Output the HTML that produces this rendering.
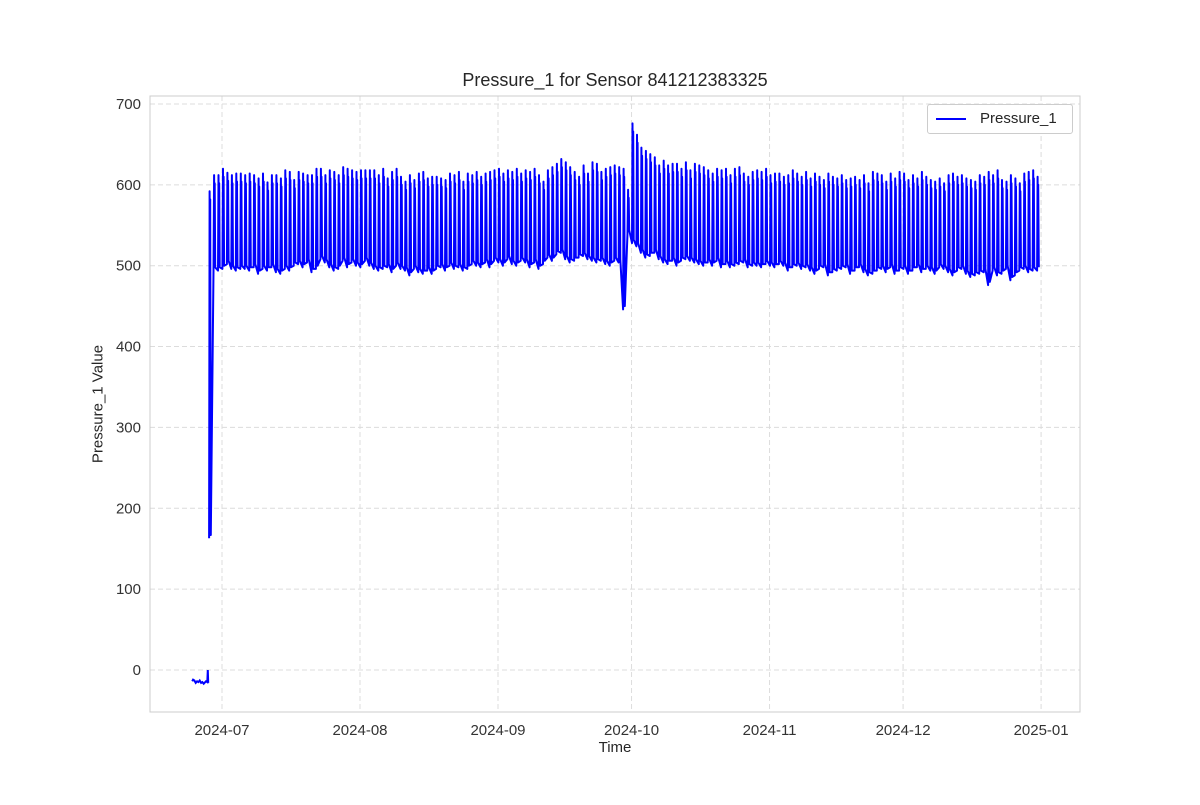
<!DOCTYPE html>
<html><head><meta charset="utf-8"><style>
body{margin:0;background:#fff;font-family:"Liberation Sans",sans-serif}
</style></head><body>
<svg id="c" width="1200" height="800" xmlns="http://www.w3.org/2000/svg" font-family="Liberation Sans, sans-serif"></svg>
<script>
const yTicks=[0,100,200,300,400,500,600,700];
const xTickLabels=["2024-07","2024-08","2024-09","2024-10","2024-11","2024-12","2025-01"];
const xTickDays=[0,31,62,92,123,153,184];
const preDays=[-6.7,-6.5,-6.2,-5.9,-5.6,-5.3,-5.0,-4.7,-4.4,-4.1,-3.6,-3.3,-3.2,-3.1];
const preVals=[-14,-12,-13,-16,-14,-15,-13,-16,-15,-17,-14,-15,0,-16];
const highs=[592,612,612,
620,615,612,614,614,612,614,612,608,614,603,612,612,608,618,616,606,616,614,612,612,620,620,612,618,616,612,622,620,618,616,
618,618,618,618,612,620,608,616,620,610,604,612,606,614,616,608,610,610,608,606,614,612,616,604,614,612,616,610,614,616,618,
620,614,618,616,620,614,618,616,620,612,604,618,622,626,632,628,622,616,610,624,614,628,626,616,620,622,624,622,620,594,
676,662,646,642,638,634,624,630,624,626,626,620,628,618,626,624,622,618,614,620,618,620,612,620,622,614,610,616,618,616,620,
612,614,614,610,612,618,614,610,616,608,614,610,606,614,610,608,612,606,608,610,606,612,602,616,614,612,604,614,608,616,
614,606,612,608,616,610,606,604,608,602,612,614,610,612,608,606,604,612,610,616,612,618,606,604,612,608,602,614,616,618,610];
const lows=[163,494,494,
496,502,496,494,496,496,494,498,490,496,494,498,492,490,496,494,500,502,498,504,492,496,508,504,498,494,496,506,498,504,500,
498,506,500,496,494,496,498,492,500,496,494,488,496,492,490,494,490,496,498,494,500,496,498,494,496,502,500,498,504,498,506,
504,500,508,502,500,506,504,498,504,496,502,510,506,514,516,508,504,506,510,512,508,506,504,506,502,500,506,504,446,540,
528,524,516,510,512,516,508,504,502,506,500,506,508,506,504,502,500,504,500,506,498,502,498,500,502,504,498,500,500,498,502,
500,498,502,500,494,498,500,496,498,494,490,496,498,488,492,494,496,498,490,494,498,492,488,490,494,496,492,498,490,494,
496,490,494,498,492,496,494,490,498,496,492,488,494,496,490,486,488,490,492,476,494,488,490,496,482,488,494,496,492,494,494];
const mids=550;
const NS="http://www.w3.org/2000/svg";
const svg=document.getElementById('c');
const L=150,R=1080,T=96,B=712;
const xs=d=>222+d*(138/31);
const ys=v=>670-v*0.8086;
function mk(t,a,p){const e=document.createElementNS(NS,t);for(const k in a)e.setAttribute(k,a[k]);(p||svg).appendChild(e);return e;}
yTicks.forEach(v=>{const g=mk('line',{x1:L,x2:R,y1:ys(v),y2:ys(v),stroke:'#dcdcdc','stroke-dasharray':'5,3'});

const t=mk('text',{x:L-9,y:ys(v)+5,'text-anchor':'end','font-size':15,fill:'#333'});t.textContent=v;
});
xTickDays.forEach((d,i)=>{const g=mk('line',{x1:xs(d),x2:xs(d),y1:T,y2:B,stroke:'#dcdcdc','stroke-dasharray':'5,3'});

const t=mk('text',{x:xs(d),y:B+23,'text-anchor':'middle','font-size':15,fill:'#333'});t.textContent=xTickLabels[i];
});
let d='';
preDays.forEach((dd,i)=>{d+=(i?'L':'M')+xs(dd).toFixed(1)+','+ys(preVals[i]).toFixed(1);});
const p1=mk('path',{d:d,fill:'none',stroke:'#0000ff','stroke-width':2});

d='';
const n=Math.min(highs.length,lows.length);
for(let i=0;i<n;i++){const day=i-3;
d+=(i?'L':'M')+xs(day+0.1).toFixed(1)+','+ys(lows[i]).toFixed(1);
d+='L'+xs(day+0.22).toFixed(1)+','+ys(highs[i]).toFixed(1);
d+='L'+xs(day+0.3).toFixed(1)+','+ys(mids).toFixed(1);
d+='L'+xs(day+0.36).toFixed(1)+','+ys(highs[i]-10).toFixed(1);
d+='L'+xs(day+0.48).toFixed(1)+','+ys(lows[i]+4).toFixed(1);}
const p2=mk('path',{d:d,fill:'none',stroke:'#0000ff','stroke-width':2,'stroke-linejoin':'round'});

const f=mk('rect',{x:L,y:T,width:R-L,height:B-T,fill:'none',stroke:'#cccccc'});

</script>
<div style="position:absolute;left:0;top:0;width:1200px;height:800px;pointer-events:none">
<div style="position:absolute;top:70px;left:0;width:1230px;text-align:center;font-size:18px;color:#262626">Pressure_1 for Sensor 841212383325</div>
<div style="position:absolute;top:739px;left:0;width:1230px;text-align:center;font-size:15px;color:#262626">Time</div>
<div style="position:absolute;left:98px;top:404px;transform:translate(-50%,-50%) rotate(-90deg);font-size:15px;color:#262626;white-space:nowrap">Pressure_1 Value</div>
<div style="position:absolute;left:927px;top:104px;width:144px;height:28px;border:1px solid #ccc;border-radius:3px;background:#fff;font-size:15px;color:#262626">
<span style="position:absolute;left:8px;top:13px;width:30px;height:2px;background:#00f"></span>
<span style="position:absolute;left:52px;top:5px">Pressure_1</span></div>
</div>
</body></html>
